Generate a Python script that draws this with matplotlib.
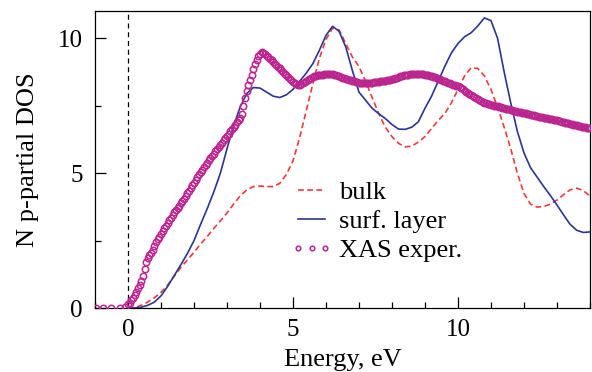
import numpy as np
import matplotlib
matplotlib.use('Agg')
import matplotlib.pyplot as plt
from matplotlib.ticker import MultipleLocator

plt.rcParams['font.family'] = 'Liberation Serif'

# Calculated N p-partial DOS, sampled every 0.2 eV from 0 to 14 eV
calc_energy = np.round(np.arange(0, 14.01, 0.2), 1)

bulk = [0.0, 0.02, 0.1, 0.22, 0.38, 0.58, 0.85, 1.18, 1.5, 1.78,
        2.07, 2.37, 2.65, 2.95, 3.23, 3.52, 3.85, 4.15, 4.38, 4.5,
        4.52, 4.5, 4.5, 4.62, 4.95, 5.45, 6.3, 7.3, 8.3, 9.25,
        9.95, 10.37, 10.3, 9.8, 9.3, 8.95, 8.4, 7.8, 7.2, 6.7,
        6.35, 6.1, 5.97, 6.0, 6.15, 6.35, 6.65, 6.95, 7.2, 7.6,
        8.1, 8.6, 8.9, 8.88, 8.6, 8.1, 7.45, 6.7, 5.9, 5.0,
        4.25, 3.85, 3.74, 3.76, 3.85, 4.0, 4.2, 4.38, 4.44, 4.35,
        4.15]

surf = [0.0, 0.0, 0.03, 0.1, 0.22, 0.45, 0.8, 1.2, 1.6, 2.02,
        2.5, 3.1, 3.68, 4.3, 5.0, 5.9, 6.75, 7.45, 7.95, 8.17,
        8.15, 8.0, 7.85, 7.8, 7.9, 8.1, 8.4, 8.7, 9.05, 9.55,
        10.1, 10.44, 10.25, 9.67, 8.8, 8.0, 7.7, 7.4, 7.2, 7.02,
        6.8, 6.63, 6.62, 6.7, 6.9, 7.4, 7.85, 8.4, 8.95, 9.45,
        9.8, 10.05, 10.2, 10.45, 10.75, 10.65, 10.0, 8.75, 7.6, 6.55,
        5.75, 5.2, 4.85, 4.5, 4.17, 3.82, 3.45, 3.1, 2.88, 2.8,
        2.82]

# XAS experiment: a few points below the edge, then every 0.05 eV
xas_pre_energy = [-0.97, -0.76, -0.51, -0.24, -0.1]
xas_pre = [0.0, 0.0, 0.0, 0.0, 0.05]
xas_grid = np.round(np.arange(0, 14.001, 0.05), 2)
xas_main = [
    0.15, 0.2, 0.3, 0.38, 0.5, 0.6, 0.75, 0.85, 1.0, 1.2,
    1.45, 1.7, 1.85, 1.95, 2.05, 2.15, 2.3, 2.45, 2.55, 2.65,
    2.75, 2.85, 2.95, 3.05, 3.15, 3.25, 3.35, 3.45, 3.55, 3.62,
    3.7, 3.79, 3.88, 3.96, 4.05, 4.15, 4.25, 4.35, 4.45, 4.55,
    4.65, 4.75, 4.85, 4.95, 5.05, 5.13, 5.22, 5.3, 5.38, 5.47,
    5.55, 5.63, 5.72, 5.8, 5.88, 5.96, 6.05, 6.13, 6.22, 6.3,
    6.38, 6.46, 6.55, 6.63, 6.72, 6.8, 6.88, 6.96, 7.05, 7.2,
    7.5, 7.8, 8.05, 8.25, 8.45, 8.65, 8.85, 9.03, 9.2, 9.33,
    9.43, 9.47, 9.45, 9.41, 9.35, 9.29, 9.23, 9.18, 9.12, 9.06,
    9.0, 8.94, 8.88, 8.82, 8.75, 8.68, 8.62, 8.56, 8.5, 8.44,
    8.38, 8.34, 8.3, 8.27, 8.26, 8.29, 8.33, 8.38, 8.42, 8.46,
    8.5, 8.53, 8.56, 8.58, 8.6, 8.62, 8.63, 8.64, 8.65, 8.66,
    8.67, 8.68, 8.68, 8.67, 8.66, 8.65, 8.63, 8.61, 8.58, 8.55,
    8.53, 8.51, 8.5, 8.48, 8.46, 8.44, 8.42, 8.4, 8.38, 8.36,
    8.35, 8.34, 8.33, 8.32, 8.32, 8.32, 8.33, 8.34, 8.35, 8.36,
    8.37, 8.38, 8.39, 8.4, 8.41, 8.42, 8.43, 8.44, 8.45, 8.46,
    8.48, 8.5, 8.52, 8.54, 8.56, 8.58, 8.6, 8.62, 8.63, 8.64,
    8.65, 8.66, 8.67, 8.68, 8.68, 8.68, 8.68, 8.68, 8.67, 8.66,
    8.65, 8.64, 8.63, 8.61, 8.59, 8.57, 8.55, 8.52, 8.5, 8.47,
    8.45, 8.42, 8.4, 8.37, 8.35, 8.32, 8.3, 8.28, 8.26, 8.24,
    8.21, 8.18, 8.14, 8.1, 8.06, 8.02, 7.98, 7.94, 7.9, 7.86,
    7.82, 7.78, 7.74, 7.7, 7.67, 7.64, 7.61, 7.59, 7.57, 7.55,
    7.53, 7.52, 7.5, 7.49, 7.47, 7.46, 7.44, 7.43, 7.41, 7.39,
    7.37, 7.36, 7.34, 7.33, 7.31, 7.3, 7.28, 7.27, 7.26, 7.24,
    7.23, 7.21, 7.2, 7.18, 7.17, 7.15, 7.14, 7.12, 7.11, 7.09,
    7.08, 7.06, 7.05, 7.04, 7.03, 7.01, 7.0, 6.99, 6.98, 6.96,
    6.95, 6.93, 6.92, 6.9, 6.89, 6.87, 6.86, 6.84, 6.83, 6.81,
    6.8, 6.78, 6.77, 6.75, 6.74, 6.72, 6.71, 6.69, 6.68, 6.67,
    6.66]
xas_energy = np.concatenate([xas_pre_energy, xas_grid])
xas = np.concatenate([xas_pre, xas_main])

fig = plt.figure(figsize=(5.92, 3.72), dpi=100)
ax = fig.add_axes([0.1605, 0.172, 0.836, 0.798])

ax.axvline(0, color='black', lw=0.9, ls=(0, (4, 3)), zorder=1)
ax.plot(calc_energy, bulk, color='#f03a3a', lw=1.2, ls=(0, (3.5, 2)), label='bulk', zorder=2)
ax.plot(calc_energy, surf, color='#2b3592', lw=1.2, label='surf. layer', zorder=2)
ax.plot(xas_energy, xas, ls='none', marker='o', ms=4.6, mfc='none', mec='#bb2590',
        mew=1.1, label='XAS exper.', zorder=3)

ax.set_xlim(-1, 14)
ax.set_ylim(0, 11)
ax.xaxis.set_major_locator(MultipleLocator(5))
ax.xaxis.set_minor_locator(MultipleLocator(1))
ax.yaxis.set_major_locator(MultipleLocator(5))
ax.yaxis.set_minor_locator(MultipleLocator(2.5))
ax.tick_params(which='both', direction='in', labelsize=18, width=0.9)
ax.tick_params(which='major', length=8)
ax.tick_params(which='minor', length=4)
ax.tick_params(axis='x', pad=8)
ax.tick_params(axis='y', pad=9)
for s in ax.spines.values():
    s.set_linewidth(0.9)

ax.set_xlabel('Energy, eV', fontsize=19, labelpad=6)
ax.set_ylabel('N p-partial DOS', fontsize=19, labelpad=13)

leg = ax.legend(loc='upper left', bbox_to_anchor=(0.395, 0.43), frameon=False, fontsize=19,
                handlelength=1.6, handletextpad=0.25, labelspacing=0.22, borderpad=0,
                borderaxespad=0, numpoints=3, markerscale=0.72)

fig.savefig('out.png', dpi=100)
